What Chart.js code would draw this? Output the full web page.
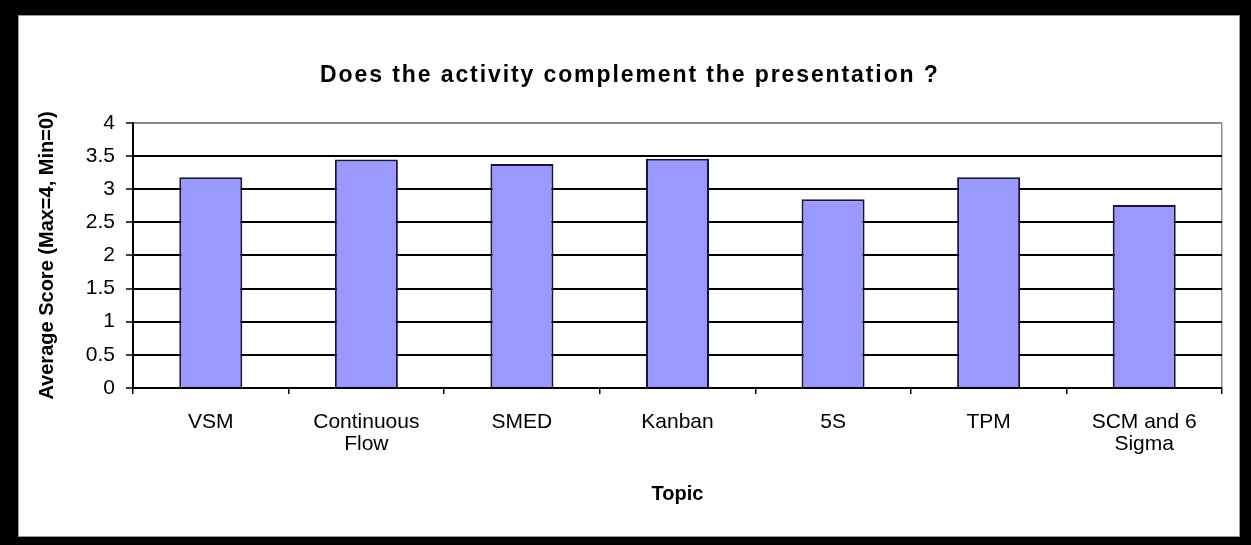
<!DOCTYPE html>
<html>
<head>
<meta charset="utf-8">
<script src="https://cdn.jsdelivr.net/npm/chart.js@4/dist/chart.umd.min.js"></script>
<style>
  html, body { margin: 0; padding: 0; background: #000; }
  body { width: 1251px; height: 545px; position: relative; overflow: hidden; }
  #frame {
    position: absolute; left: 18px; top: 15px;
    width: 1220px; height: 520px;
    background: #fff; border: 1px solid #9a9a9a;
  }
  #chart { display: block; }
</style>
</head>
<body>
<div id="frame"><canvas id="chart" width="1220" height="520"></canvas></div>
<script>
// Survey topics (multi-line labels split where the axis wraps them)
const topics = [
  ['VSM'],
  ['Continuous', 'Flow'],
  ['SMED'],
  ['Kanban'],
  ['5S'],
  ['TPM'],
  ['SCM and 6', 'Sigma']
];

// Average score per topic (scale 0..4)
const avgScores = [3.18, 3.45, 3.38, 3.46, 2.85, 3.18, 2.76];

// Value axis range
const yMin = 0;
const yMax = 4;
const yStep = 0.5;

const chartTitle = 'Does the activity complement the presentation ?';
const xTitle = 'Topic';
const yTitle = 'Average Score (Max=4, Min=0)';

const FONT = '"Liberation Sans", Arial, Helvetica, sans-serif';

// Heading drawn with widened letter spacing; room for it is reserved by layout padding.
const spacedTitle = {
  id: 'spacedTitle',
  afterDraw(chart, args, opts) {
    const ctx = chart.ctx;
    ctx.save();
    const spacingSupported = 'letterSpacing' in ctx;
    const size = spacingSupported ? opts.size : opts.size + 4;
    ctx.font = 'bold ' + size + 'px ' + FONT;
    if (spacingSupported) ctx.letterSpacing = opts.spacing + 'px';
    ctx.fillStyle = '#000';
    ctx.textAlign = 'center';
    ctx.textBaseline = 'middle';
    ctx.fillText(opts.text, chart.width / 2 + (spacingSupported ? opts.spacing / 2 : 0), opts.y);
    ctx.restore();
  }
};

new Chart(document.getElementById('chart'), {
  type: 'bar',
  data: {
    labels: topics,
    datasets: [{
      data: avgScores,
      backgroundColor: '#9999ff',
      borderColor: '#14143c',
      borderWidth: { top: 2, left: 2, right: 2, bottom: 0 },
      borderSkipped: 'start',
      categoryPercentage: 1.0,
      barPercentage: 0.405
    }]
  },
  plugins: [spacedTitle],
  options: {
    responsive: false,
    animation: false,
    layout: { padding: { left: 0, right: 17, top: 107, bottom: 0 } },
    plugins: {
      legend: { display: false },
      tooltip: { enabled: false },
      title: { display: false },
      spacedTitle: { text: chartTitle, size: 23, spacing: 1.9, y: 60 }
    },
    scales: {
      x: {
        grid: {
          display: true,
          offset: true,
          drawOnChartArea: true,
          // only the closing edge of the plot is drawn inside the area (right frame line)
          color: (c) => (c.type === 'scale' ? '#8c8c8c' : 'rgba(0,0,0,0)'),
          lineWidth: 1.5,
          tickColor: '#000',
          tickLength: 6,
          tickWidth: 1.5
        },
        border: { display: true, color: '#000', width: 2 },
        ticks: {
          color: '#000',
          padding: 17,
          maxRotation: 0,
          autoSkip: false,
          font: { family: FONT, size: 21, lineHeight: 1.05 }
        },
        title: {
          display: true,
          text: xTitle,
          color: '#000',
          font: { family: FONT, size: 20, weight: 'bold', lineHeight: 1.2 },
          padding: { top: 10, bottom: 30 }
        }
      },
      y: {
        min: yMin,
        max: yMax,
        ticks: {
          stepSize: yStep,
          color: '#000',
          padding: 11,
          font: { family: FONT, size: 21 },
          callback: (v) => String(v)
        },
        grid: {
          color: (c) => (c.tick && c.tick.value === yMax ? '#8c8c8c' : '#000'),
          lineWidth: 2,
          tickColor: '#000',
          tickLength: 7,
          tickWidth: 1.5
        },
        border: { display: true, color: '#000', width: 2 },
        title: {
          display: true,
          text: yTitle,
          color: '#000',
          font: { family: FONT, size: 20, weight: 'bold', lineHeight: 1.2 },
          padding: { top: 16, bottom: 0 }
        },
        afterFit(scale) { scale.width = 114; }
      }
    }
  }
});
</script>
</body>
</html>
